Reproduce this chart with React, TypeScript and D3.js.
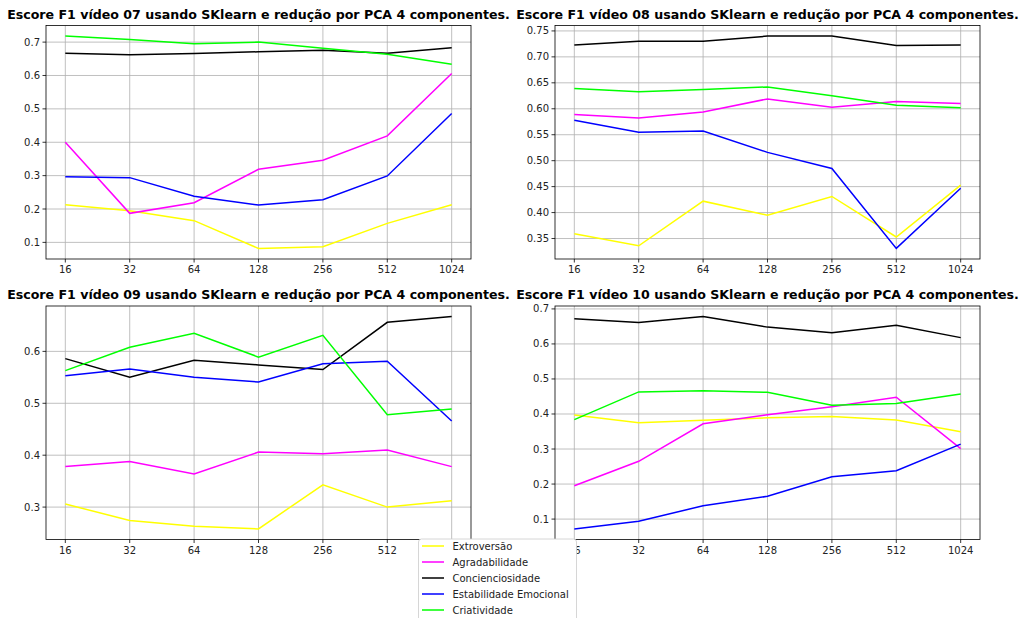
import React from "react";
import * as d3 from "d3";

// x categories (number of frames)
const xLabels = ["16", "32", "64", "128", "256", "512", "1024"];

const seriesNames = [
  "Extroversão",
  "Agradabilidade",
  "Concienciosidade",
  "Estabilidade Emocional",
  "Criatividade",
];
const seriesColors = ["#ffff00", "#ff00ff", "#000000", "#0000ff", "#00ff00"];

// values per video, rows in the same order as seriesNames
const video07 = [
  [0.213, 0.195, 0.165, 0.082, 0.087, 0.157, 0.213],
  [0.4, 0.187, 0.219, 0.319, 0.346, 0.419, 0.606],
  [0.667, 0.662, 0.666, 0.671, 0.676, 0.667, 0.683],
  [0.297, 0.294, 0.238, 0.212, 0.228, 0.299, 0.486],
  [0.718, 0.708, 0.695, 0.7, 0.682, 0.664, 0.634],
];
const video08 = [
  [0.359, 0.336, 0.422, 0.395, 0.431, 0.353, 0.453],
  [0.589, 0.582, 0.594, 0.619, 0.603, 0.614, 0.61],
  [0.723, 0.73, 0.73, 0.74, 0.74, 0.722, 0.723],
  [0.578, 0.555, 0.557, 0.516, 0.485, 0.331, 0.447],
  [0.639, 0.633, 0.637, 0.642, 0.625, 0.607, 0.602],
];
const video09 = [
  [0.306, 0.274, 0.263, 0.258, 0.343, 0.3, 0.312],
  [0.378, 0.388, 0.364, 0.406, 0.403, 0.41, 0.378],
  [0.586, 0.55, 0.583, 0.574, 0.565, 0.656, 0.667],
  [0.553, 0.566, 0.55, 0.541, 0.576, 0.581, 0.466],
  [0.563, 0.608, 0.635, 0.589, 0.631, 0.478, 0.489],
];
const video10 = [
  [0.397, 0.375, 0.382, 0.389, 0.393, 0.383, 0.349],
  [0.195, 0.265, 0.372, 0.398, 0.421, 0.448, 0.301],
  [0.672, 0.661, 0.678, 0.648, 0.632, 0.653, 0.618],
  [0.072, 0.094, 0.138, 0.165, 0.221, 0.238, 0.314],
  [0.384, 0.463, 0.466, 0.462, 0.425, 0.43, 0.457],
];

const ticks07 = ["0.1", "0.2", "0.3", "0.4", "0.5", "0.6", "0.7"];
const ticks08 = ["0.35", "0.40", "0.45", "0.50", "0.55", "0.60", "0.65", "0.70", "0.75"];
const ticks09 = ["0.3", "0.4", "0.5", "0.6"];
const ticks10 = ["0.1", "0.2", "0.3", "0.4", "0.5", "0.6", "0.7"];

const font = "DejaVu Sans, sans-serif";

const Panel = ({ title, rows, yTicks, left, top, width, height }) => {
  const all = rows.flat();
  const lo = d3.min(all);
  const hi = d3.max(all);
  const pad = (hi - lo) * 0.05;

  const x = d3
    .scalePoint()
    .domain(xLabels)
    .range([left, left + width])
    .padding(0.3);
  const y = d3
    .scaleLinear()
    .domain([lo - pad, hi + pad])
    .range([top + height, top]);

  const line = d3
    .line()
    .x((d, i) => x(xLabels[i]))
    .y((d) => y(d));

  return (
    <g>
      {/* grid */}
      {xLabels.map((l) => (
        <line key={"gx" + l} x1={x(l)} x2={x(l)} y1={top} y2={top + height} stroke="#b0b0b0" strokeWidth={0.8} />
      ))}
      {yTicks.map((t) => (
        <line key={"gy" + t} x1={left} x2={left + width} y1={y(+t)} y2={y(+t)} stroke="#b0b0b0" strokeWidth={0.8} />
      ))}
      {rows.map((r, i) => (
        <path key={i} d={line(r)} fill="none" stroke={seriesColors[i]} strokeWidth={1.5} />
      ))}
      <rect x={left} y={top} width={width} height={height} fill="none" stroke="#000" strokeWidth={0.8} />
      {/* x axis */}
      {xLabels.map((l) => (
        <g key={"tx" + l}>
          <line x1={x(l)} x2={x(l)} y1={top + height} y2={top + height + 3.5} stroke="#000" strokeWidth={0.8} />
          <text x={x(l)} y={top + height + 7} dy="0.71em" textAnchor="middle" fontSize={10} fill="#222">
            {l}
          </text>
        </g>
      ))}
      {/* y axis */}
      {yTicks.map((t) => (
        <g key={"ty" + t}>
          <line x1={left - 3.5} x2={left} y1={y(+t)} y2={y(+t)} stroke="#000" strokeWidth={0.8} />
          <text x={left - 6} y={y(+t)} dy="0.35em" textAnchor="end" fontSize={10} fill="#222">
            {t}
          </text>
        </g>
      ))}
      <text x={left + width / 2} y={top - 7} textAnchor="middle" fontSize={12.6} fontWeight="bold" fill="#000">
        {title}
      </text>
    </g>
  );
};

const Legend = ({ x0, y0 }) => (
  <g>
    <rect x={x0} y={y0} width={158} height={92} rx={3} fill="white" stroke="#cccccc" strokeWidth={0.8} />
    {seriesNames.map((n, i) => (
      <g key={n} transform={`translate(${x0}, ${y0 + 7 + i * 16})`}>
        <line x1={3.5} x2={25.5} y1={0} y2={0} stroke={seriesColors[i]} strokeWidth={1.5} />
        <text x={34} y={0} dy="0.35em" fontSize={10} fill="#222">
          {n}
        </text>
      </g>
    ))}
  </g>
);

export default function App() {
  const w = 425;
  const h = 233.5;
  return (
    <svg
      width={1022}
      height={618}
      style={{ position: "absolute", left: 0, top: 0, background: "white" }}
      fontFamily={font}
    >
      <Panel title="Escore F1 vídeo 07 usando SKlearn e redução por PCA 4 componentes." rows={video07} yTicks={ticks07} left={46} top={25.5} width={w} height={h} />
      <Panel title="Escore F1 vídeo 08 usando SKlearn e redução por PCA 4 componentes." rows={video08} yTicks={ticks08} left={555} top={25.5} width={w} height={h} />
      <Panel title="Escore F1 vídeo 09 usando SKlearn e redução por PCA 4 componentes." rows={video09} yTicks={ticks09} left={46} top={306} width={w} height={h} />
      <Panel title="Escore F1 vídeo 10 usando SKlearn e redução por PCA 4 componentes." rows={video10} yTicks={ticks10} left={555} top={306} width={w} height={h} />
      <Legend x0={418.5} y0={539} />
    </svg>
  );
}
